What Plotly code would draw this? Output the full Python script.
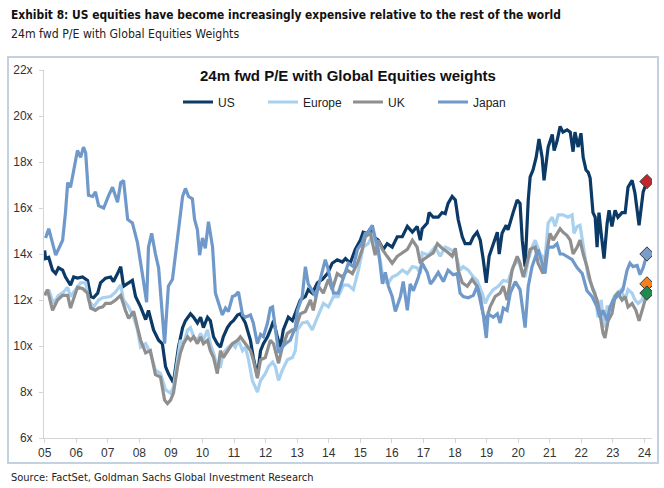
import plotly.graph_objects as go

# ---------------- data ----------------
us_date = [2005.00, 2005.03, 2005.13, 2005.25, 2005.35, 2005.44, 2005.57, 2005.66, 2005.82, 2005.92,
           2006.04, 2006.20, 2006.36, 2006.46, 2006.55, 2006.68, 2006.77, 2006.93, 2007.09, 2007.18,
           2007.31, 2007.41, 2007.50, 2007.66, 2007.78, 2007.88, 2008.04, 2008.20, 2008.29, 2008.45,
           2008.61, 2008.73, 2008.83, 2008.92, 2009.08, 2009.24, 2009.37, 2009.46, 2009.62, 2009.72,
           2009.84, 2009.94, 2010.03, 2010.16, 2010.25, 2010.35, 2010.47, 2010.57, 2010.66, 2010.79,
           2010.89, 2010.98, 2011.11, 2011.20, 2011.36, 2011.52, 2011.61, 2011.74, 2011.84, 2011.93,
           2012.06, 2012.15, 2012.25, 2012.37, 2012.47, 2012.56, 2012.72, 2012.85, 2012.94, 2013.10,
           2013.26, 2013.35, 2013.48, 2013.64, 2013.80, 2013.96, 2014.11, 2014.27, 2014.43, 2014.53,
           2014.68, 2014.84, 2015.00, 2015.09, 2015.22, 2015.32, 2015.41, 2015.57, 2015.73, 2015.85,
           2016.01, 2016.17, 2016.33, 2016.49, 2016.65, 2016.80, 2016.90, 2016.96, 2017.12, 2017.18,
           2017.31, 2017.47, 2017.59, 2017.69, 2017.78, 2017.91, 2018.01, 2018.10, 2018.23, 2018.32,
           2018.48, 2018.58, 2018.70, 2018.80, 2018.89, 2018.99, 2019.08, 2019.21, 2019.34, 2019.40,
           2019.49, 2019.62, 2019.68, 2019.84, 2019.97, 2020.06, 2020.13, 2020.22, 2020.32, 2020.38,
           2020.47, 2020.57, 2020.66, 2020.76, 2020.82, 2020.95, 2021.08, 2021.14, 2021.23, 2021.33,
           2021.42, 2021.55, 2021.65, 2021.74, 2021.80, 2021.90, 2021.99, 2022.06, 2022.15, 2022.22,
           2022.28, 2022.37, 2022.44, 2022.50, 2022.56, 2022.63, 2022.72, 2022.82, 2022.88, 2022.97,
           2023.07, 2023.16, 2023.29, 2023.39, 2023.48, 2023.61, 2023.70, 2023.83, 2023.96, 2024.08]
us_pe = [14.15, 13.8, 13.85, 13.3, 13.15, 13.4, 13.3, 13.0, 12.65, 13.0,
         12.95, 13.0, 12.85, 12.15, 12.1, 12.3, 12.75, 12.95, 13.0, 12.8,
         13.15, 13.45, 12.6, 12.75, 12.85, 12.15, 11.7, 11.15, 11.55, 10.7,
         10.25, 10.1, 9.1, 8.8, 8.4, 9.95, 10.8, 11.1, 11.4, 11.25,
         11.0, 11.25, 10.8, 11.25, 11.1, 10.4, 10.1, 9.95, 10.4, 10.8,
         11.0, 11.1, 11.35, 11.4, 11.0, 10.25, 9.5, 8.7, 9.8, 10.1,
         10.4, 10.7, 11.1, 10.4, 9.95, 10.7, 11.25, 11.1, 11.4, 12.0,
         12.15, 12.45, 12.3, 12.75, 12.9, 13.15, 13.6, 13.75, 13.65, 13.8,
         13.6, 14.2, 14.6, 14.95, 14.9, 15.1, 14.75, 14.6, 14.2, 14.45,
         14.3, 14.75, 14.75, 15.2, 14.95, 15.2, 14.6, 15.1, 15.35, 15.8,
         15.6, 15.6, 15.8, 15.75, 16.2, 16.5, 16.35, 15.5, 14.75, 14.45,
         14.45, 14.75, 14.95, 14.6, 13.8, 12.75, 13.9, 14.45, 14.95, 14.0,
         14.9, 15.25, 15.05, 15.8, 16.35, 16.2, 14.6, 13.45, 16.35, 17.35,
         17.65, 18.2, 19.0, 18.2, 17.2, 18.65, 19.2, 18.5, 18.9, 19.55,
         19.3, 19.4, 19.3, 18.45, 19.3, 18.65, 19.25, 18.2, 17.65, 17.55,
         17.3, 15.8, 15.6, 14.3, 15.8, 14.9, 13.8, 15.35, 15.9, 15.2,
         15.9, 15.6, 15.8, 15.8, 16.9, 17.2, 16.65, 15.25, 16.7, 17.15]

europe_date = [2005.00, 2005.13, 2005.28, 2005.44, 2005.60, 2005.73, 2005.82, 2005.92, 2006.04, 2006.14,
               2006.30, 2006.39, 2006.55, 2006.71, 2006.84, 2006.99, 2007.09, 2007.25, 2007.41, 2007.50,
               2007.66, 2007.82, 2007.94, 2008.04, 2008.20, 2008.35, 2008.51, 2008.67, 2008.83, 2008.99,
               2009.08, 2009.21, 2009.30, 2009.40, 2009.53, 2009.62, 2009.72, 2009.84, 2009.94, 2010.03,
               2010.16, 2010.25, 2010.35, 2010.47, 2010.57, 2010.66, 2010.82, 2010.95, 2011.04, 2011.14,
               2011.27, 2011.36, 2011.46, 2011.58, 2011.74, 2011.84, 2011.99, 2012.09, 2012.22, 2012.31,
               2012.41, 2012.53, 2012.69, 2012.85, 2012.94, 2013.01, 2013.16, 2013.32, 2013.48, 2013.64,
               2013.83, 2013.99, 2014.15, 2014.30, 2014.46, 2014.62, 2014.78, 2014.94, 2015.09, 2015.25,
               2015.41, 2015.54, 2015.63, 2015.73, 2015.89, 2016.01, 2016.17, 2016.33, 2016.49, 2016.65,
               2016.80, 2016.90, 2016.96, 2017.15, 2017.37, 2017.53, 2017.69, 2017.85, 2018.01, 2018.16,
               2018.26, 2018.42, 2018.58, 2018.70, 2018.86, 2018.96, 2019.05, 2019.21, 2019.37, 2019.53,
               2019.68, 2019.84, 2020.00, 2020.13, 2020.22, 2020.32, 2020.44, 2020.54, 2020.70, 2020.85,
               2020.95, 2021.08, 2021.17, 2021.27, 2021.42, 2021.58, 2021.71, 2021.77, 2021.87, 2021.96,
               2022.03, 2022.12, 2022.22, 2022.34, 2022.44, 2022.53, 2022.63, 2022.72, 2022.82, 2022.94,
               2023.04, 2023.13, 2023.26, 2023.39, 2023.48, 2023.61, 2023.70, 2023.80, 2023.92, 2024.08]
europe_pe = [12.2, 12.45, 11.85, 12.2, 12.35, 12.55, 12.15, 12.35, 12.55, 12.75,
             12.75, 12.0, 11.7, 12.0, 12.1, 12.15, 12.15, 12.35, 12.65, 12.0,
             11.7, 11.25, 10.7, 9.95, 10.1, 9.7, 8.95, 8.8, 8.1, 7.95,
             8.2, 9.4, 10.25, 10.1, 10.7, 10.8, 10.4, 10.25, 10.55, 10.25,
             10.7, 10.1, 9.7, 9.1, 9.1, 9.7, 9.95, 10.1, 9.95, 10.25,
             9.8, 9.95, 9.4, 8.5, 8.0, 8.5, 8.8, 9.1, 9.3, 9.1,
             8.5, 8.95, 9.4, 9.5, 9.8, 10.7, 11.0, 11.05, 10.7, 11.25,
             11.85, 11.7, 12.15, 12.15, 12.65, 12.65, 12.45, 13.3, 14.3, 14.45,
             14.9, 14.2, 13.75, 12.8, 12.75, 13.0, 13.1, 13.3, 13.15, 13.45,
             13.4, 13.15, 14.05, 13.95, 14.3, 13.9, 14.3, 14.2, 14.05, 13.3,
             13.45, 13.3, 13.0, 12.85, 12.3, 11.85, 12.15, 12.45, 12.6, 12.85,
             12.8, 13.45, 13.75, 13.15, 13.0, 13.75, 14.3, 14.6, 14.0, 13.75,
             15.35, 15.6, 15.2, 15.7, 15.7, 15.6, 15.7, 14.9, 15.2, 15.25,
             14.6, 13.75, 13.0, 12.6, 12.3, 11.25, 12.0, 10.8, 11.7, 11.7,
             12.15, 12.3, 12.45, 12.0, 12.45, 12.3, 12.0, 11.85, 12.0, 12.7]

uk_date = [2005.00, 2005.09, 2005.25, 2005.41, 2005.57, 2005.73, 2005.82, 2005.92, 2006.04, 2006.20,
           2006.36, 2006.46, 2006.61, 2006.71, 2006.84, 2006.93, 2007.09, 2007.25, 2007.41, 2007.56,
           2007.66, 2007.82, 2007.94, 2008.04, 2008.20, 2008.35, 2008.51, 2008.67, 2008.80, 2008.89,
           2008.99, 2009.08, 2009.21, 2009.30, 2009.40, 2009.53, 2009.62, 2009.72, 2009.84, 2009.94,
           2010.03, 2010.16, 2010.25, 2010.35, 2010.47, 2010.57, 2010.66, 2010.82, 2010.95, 2011.11,
           2011.20, 2011.36, 2011.52, 2011.61, 2011.74, 2011.84, 2011.99, 2012.15, 2012.25, 2012.41,
           2012.53, 2012.69, 2012.85, 2012.94, 2013.10, 2013.26, 2013.42, 2013.51, 2013.67, 2013.83,
           2013.99, 2014.11, 2014.27, 2014.43, 2014.59, 2014.75, 2014.91, 2015.06, 2015.16, 2015.32,
           2015.47, 2015.57, 2015.70, 2015.85, 2016.01, 2016.17, 2016.33, 2016.49, 2016.65, 2016.80,
           2016.90, 2016.99, 2017.15, 2017.31, 2017.44, 2017.59, 2017.75, 2017.91, 2018.01, 2018.10,
           2018.23, 2018.39, 2018.54, 2018.70, 2018.80, 2018.89, 2018.99, 2019.11, 2019.27, 2019.43,
           2019.53, 2019.65, 2019.81, 2019.97, 2020.06, 2020.16, 2020.28, 2020.38, 2020.54, 2020.63,
           2020.79, 2020.92, 2021.01, 2021.11, 2021.23, 2021.33, 2021.42, 2021.55, 2021.65, 2021.74,
           2021.87, 2021.96, 2022.06, 2022.18, 2022.28, 2022.37, 2022.50, 2022.59, 2022.69, 2022.75,
           2022.85, 2022.97, 2023.07, 2023.16, 2023.29, 2023.39, 2023.48, 2023.61, 2023.73, 2023.83,
           2023.96, 2024.08]
uk_pe = [12.2, 12.45, 11.55, 12.0, 12.2, 12.2, 11.65, 12.1, 12.55, 12.5,
         12.3, 11.65, 11.55, 11.65, 11.7, 11.85, 11.85, 12.0, 12.2, 11.55,
         11.2, 11.5, 10.8, 10.25, 9.7, 9.8, 8.75, 8.65, 7.65, 7.5,
         7.65, 7.95, 9.1, 9.7, 10.1, 10.4, 10.25, 10.4, 10.1, 10.4,
         10.1, 10.25, 9.8, 9.5, 8.8, 9.8, 9.5, 9.8, 10.1, 10.25,
         10.4, 10.1, 9.8, 9.4, 8.6, 9.4, 9.5, 10.25, 10.1, 9.25,
         9.95, 10.55, 10.7, 10.7, 11.4, 11.5, 12.0, 11.55, 12.6, 12.3,
         12.9, 12.45, 13.15, 13.0, 13.3, 13.15, 13.6, 14.2, 14.75, 14.9,
         13.95, 14.6, 14.2, 13.9, 13.6, 13.9, 14.05, 14.2, 14.6, 14.3,
         13.6, 13.75, 13.9, 14.05, 14.45, 14.25, 14.1, 13.9, 14.25, 13.3,
         12.75, 12.6, 12.9, 12.6, 12.15, 11.4, 11.1, 11.7, 12.15, 12.3,
         12.6, 12.0, 13.3, 13.9, 13.6, 13.0, 13.6, 14.2, 14.3, 13.6,
         13.15, 14.3, 14.9, 14.6, 14.9, 15.1, 14.95, 14.8, 14.6, 14.0,
         14.3, 14.6, 14.0, 13.45, 12.85, 12.45, 12.0, 11.4, 10.55, 10.35,
         11.1, 11.4, 12.15, 12.3, 12.0, 12.15, 11.7, 11.85, 11.55, 11.1,
         11.7, 12.3]

japan_date = [2005.03, 2005.13, 2005.35, 2005.57, 2005.66, 2005.73, 2005.82, 2006.04, 2006.14, 2006.23,
              2006.30, 2006.39, 2006.52, 2006.61, 2006.71, 2006.87, 2007.03, 2007.15, 2007.31, 2007.41,
              2007.50, 2007.63, 2007.78, 2007.94, 2008.10, 2008.23, 2008.29, 2008.39, 2008.51, 2008.61,
              2008.80, 2008.92, 2009.05, 2009.21, 2009.37, 2009.46, 2009.56, 2009.68, 2009.75, 2009.84,
              2009.91, 2010.00, 2010.09, 2010.19, 2010.32, 2010.41, 2010.51, 2010.63, 2010.73, 2010.82,
              2010.95, 2011.04, 2011.14, 2011.27, 2011.36, 2011.52, 2011.61, 2011.74, 2011.84, 2011.93,
              2012.06, 2012.15, 2012.22, 2012.31, 2012.41, 2012.53, 2012.63, 2012.78, 2012.94, 2013.01,
              2013.16, 2013.26, 2013.35, 2013.48, 2013.58, 2013.73, 2013.89, 2013.96, 2014.05, 2014.15,
              2014.30, 2014.46, 2014.62, 2014.78, 2014.91, 2015.06, 2015.16, 2015.25, 2015.38, 2015.47,
              2015.57, 2015.70, 2015.79, 2015.89, 2016.01, 2016.11, 2016.27, 2016.36, 2016.49, 2016.58,
              2016.68, 2016.84, 2016.96, 2017.12, 2017.22, 2017.31, 2017.47, 2017.63, 2017.78, 2017.94,
              2018.07, 2018.16, 2018.26, 2018.42, 2018.58, 2018.70, 2018.80, 2018.89, 2018.99, 2019.05,
              2019.21, 2019.34, 2019.43, 2019.53, 2019.65, 2019.75, 2019.91, 2020.06, 2020.22, 2020.32,
              2020.44, 2020.54, 2020.63, 2020.76, 2020.85, 2020.95, 2021.11, 2021.23, 2021.33, 2021.42,
              2021.55, 2021.71, 2021.87, 2022.03, 2022.18, 2022.34, 2022.50, 2022.59, 2022.69, 2022.82,
              2022.91, 2023.01, 2023.13, 2023.23, 2023.32, 2023.45, 2023.54, 2023.64, 2023.77, 2023.86,
              2023.96, 2024.08]
japan_pe = [14.7, 15.1, 13.95, 14.6, 15.8, 17.1, 16.9, 18.5, 18.2, 18.65,
            18.4, 16.55, 16.5, 16.7, 16.1, 16.0, 16.55, 16.9, 16.25, 17.1,
            17.2, 15.5, 15.35, 14.5, 13.1, 11.9, 14.3, 14.9, 14.0, 13.4,
            10.1, 12.6, 12.9, 14.6, 16.5, 16.85, 16.5, 16.4, 15.5, 15.05,
            13.95, 14.7, 14.25, 15.4, 14.3, 12.3, 11.9, 11.35, 11.65, 11.5,
            12.15, 12.2, 12.35, 11.35, 11.25, 11.35, 11.0, 10.1, 10.5, 10.4,
            11.0, 11.65, 11.7, 10.7, 9.7, 9.95, 10.1, 10.25, 10.8, 11.55,
            12.15, 13.45, 12.7, 12.4, 12.15, 12.9, 13.75, 13.45, 12.9, 12.3,
            12.3, 13.0, 13.6, 13.45, 14.2, 14.5, 14.9, 14.95, 15.25, 14.7,
            14.2, 12.7, 13.2, 12.6, 12.15, 11.5, 12.15, 12.8, 11.55, 12.7,
            12.4, 13.0, 13.6, 13.2, 12.7, 12.85, 13.2, 12.8, 13.3, 13.1,
            13.15, 12.3, 12.15, 12.1, 12.2, 12.6, 12.0, 11.4, 10.35, 11.4,
            11.25, 11.4, 11.0, 11.65, 11.55, 12.3, 12.8, 12.45, 10.8, 12.6,
            13.45, 13.8, 14.2, 13.6, 13.15, 14.3, 14.3, 14.45, 14.0, 14.0,
            13.9, 13.75, 13.4, 13.15, 12.4, 12.15, 11.7, 11.25, 11.55, 11.1,
            11.7, 12.0, 12.15, 12.3, 12.45, 13.3, 13.6, 13.45, 13.5, 13.1,
            13.4, 14.0]

series_names = ["US", "Europe", "UK", "Japan"]
line_colors = ["#0b3a66", "#a8d0ef", "#8f8f8f", "#6f99ca"]
marker_colors = ["#c1272d", "#f47f20", "#1f8a4d", "#7a9ccb"]

year_ticks = list(range(2005, 2025))
year_labels = [f"{y % 100:02d}" for y in year_ticks]
pe_ticks = list(range(6, 23, 2))
pe_labels = [f"{v}x" for v in pe_ticks]

# ---------------- figure ----------------
dates = [us_date, europe_date, uk_date, japan_date]
values = [us_pe, europe_pe, uk_pe, japan_pe]

fig = go.Figure()
for name, d, v, c in zip(series_names, dates, values, line_colors):
    fig.add_trace(go.Scatter(x=d, y=v, name=name, mode="lines",
                             line=dict(color=c, width=3.2), hoverinfo="skip"))
for name, d, v, mc in zip(series_names, dates, values, marker_colors):
    fig.add_trace(go.Scatter(x=[d[-1]], y=[v[-1]], mode="markers", showlegend=False,
                             marker=dict(symbol="diamond", size=11, color=mc,
                                         line=dict(color="#3a3a3a", width=1)),
                             hoverinfo="skip"))

narrow = "DejaVu Sans Condensed, sans-serif"
arial = "Liberation Sans, Arial, sans-serif"

L, R, T, B = 44, 12, 70, 50
W, H = 664, 488
pw, ph = W - L - R, H - T - B


def px(xp):
    return (xp - L) / pw


def py(yp):
    return (H - B - yp) / ph


fig.update_layout(
    width=W, height=H,
    margin=dict(l=L, r=R, t=T, b=B),
    paper_bgcolor="white", plot_bgcolor="white",
    showlegend=True,
    legend=dict(orientation="h", x=0.5, xanchor="center", y=py(102), yanchor="middle",
                font=dict(family=arial, size=12, color="#222222"),
                bgcolor="rgba(0,0,0,0)", entrywidth=40, entrywidthmode="pixels",
                tracegroupgap=0),
    xaxis=dict(range=[2004.98, 2024.24], tickmode="array", tickvals=year_ticks,
               ticktext=year_labels, showgrid=False, zeroline=False,
               showline=True, linecolor="#d4d4d4", linewidth=1,
               ticks="outside", ticklen=4, tickcolor="#d4d4d4",
               tickfont=dict(family=arial, size=12, color="#333333")),
    yaxis=dict(range=[6, 22], tickmode="array", tickvals=pe_ticks, ticktext=pe_labels,
               showgrid=False, zeroline=False, showline=True, linecolor="#d4d4d4",
               linewidth=1, ticks="outside", ticklen=4, tickcolor="#d4d4d4",
               tickfont=dict(family=arial, size=12, color="#333333"),
               ticklabelstandoff=4),
    shapes=[
        dict(type="rect", xref="paper", yref="paper",
             x0=px(8), x1=px(658), y0=py(463), y1=py(57),
             line=dict(color="#c3d1e0", width=2), fillcolor="rgba(0,0,0,0)", layer="below"),
    ],
    annotations=[
        dict(text="<b>Exhibit 8: US equities have become increasingly expensive relative to the rest of the world</b>",
             xref="paper", yref="paper", x=px(9), y=py(15), xanchor="left", yanchor="middle",
             showarrow=False, font=dict(family=narrow, size=11.9, color="#111111")),
        dict(text="24m fwd P/E with Global Equities Weights",
             xref="paper", yref="paper", x=px(9), y=py(34), xanchor="left", yanchor="middle",
             showarrow=False, font=dict(family=narrow, size=12.2, color="#222222")),
        dict(text="<b>24m fwd P/E with Global Equities weights</b>",
             xref="paper", yref="paper", x=0.5, y=py(75), xanchor="center", yanchor="middle",
             showarrow=False, font=dict(family=arial, size=15, color="#111111")),
        dict(text="Source: FactSet, Goldman Sachs Global Investment Research",
             xref="paper", yref="paper", x=px(9), y=py(477), xanchor="left", yanchor="middle",
             showarrow=False, font=dict(family=narrow, size=11, color="#222222")),
    ],
)

fig.write_html("out.html", config={"displayModeBar": False},
               post_script="document.body.style.margin='0';")
